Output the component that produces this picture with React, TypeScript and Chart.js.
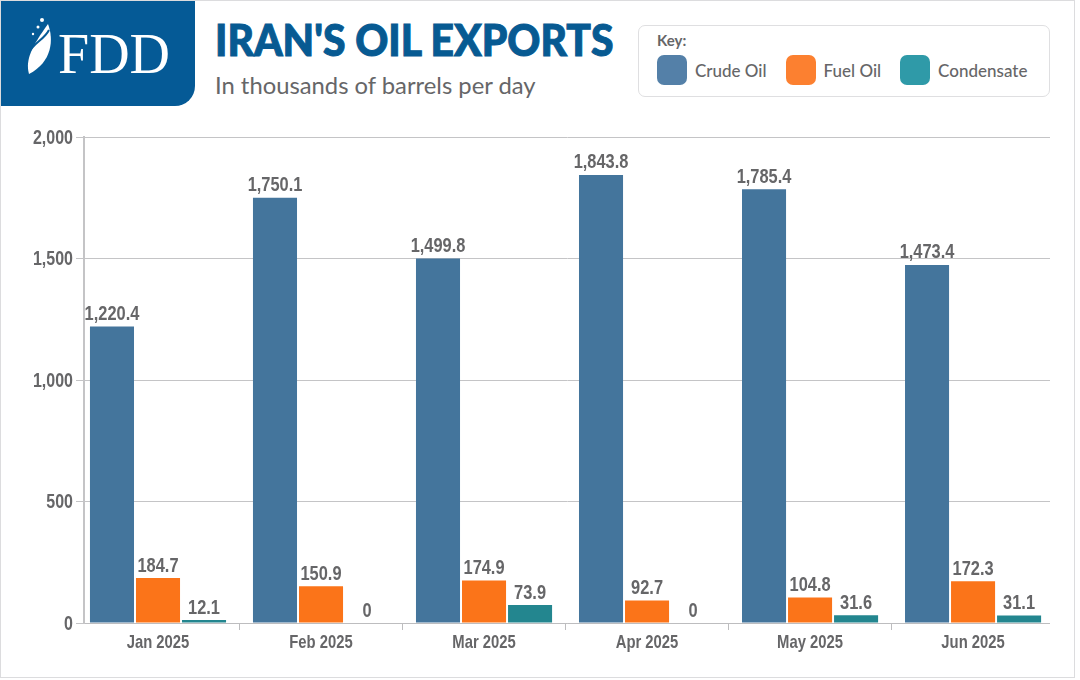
import React, { useEffect, useRef } from 'react';
import { Chart, registerables } from 'chart.js';

Chart.register(...registerables);

const months = ['Jan 2025', 'Feb 2025', 'Mar 2025', 'Apr 2025', 'May 2025', 'Jun 2025'];
const crudeOil = [1220.4, 1750.1, 1499.8, 1843.8, 1785.4, 1473.4];
const fuelOil = [184.7, 150.9, 174.9, 92.7, 104.8, 172.3];
const condensate = [12.1, 0, 73.9, 0, 31.6, 31.1];
const yTicks = [0, 500, 1000, 1500, 2000];

const CRUDE = '#44759c';
const FUEL = '#fb7419';
const COND = '#23868f';
const INK = '#666668';
const SANS = '"Liberation Sans", sans-serif';

// no condensed font is installed, so squeeze the text horizontally
function narrowText(ctx: any, text: string, x: number, y: number, size: number, squeeze: number, align: string, base: string) {
  ctx.save();
  ctx.font = `bold ${size}px ${SANS}`;
  ctx.fillStyle = INK;
  ctx.textAlign = align;
  ctx.textBaseline = base;
  ctx.translate(x, y);
  ctx.scale(squeeze, 1);
  ctx.fillText(text, 0, 0);
  ctx.restore();
}

const fmt = (v: number) => v.toLocaleString('en-US', { maximumFractionDigits: 1 });

// value above each bar and the axis labels
const chartText = {
  id: 'chartText',
  afterDraw(chart: any) {
    const { ctx, scales } = chart;
    chart.data.datasets.forEach((ds: any, i: number) => {
      chart.getDatasetMeta(i).data.forEach((bar: any, j: number) => {
        narrowText(ctx, fmt(ds.data[j].y), bar.x, bar.y - 2, 20, 0.82, 'center', 'bottom');
      });
    });
    yTicks.forEach((t) => {
      narrowText(ctx, fmt(t), 73, scales.y.getPixelForValue(t) + 1, 20, 0.8, 'right', 'middle');
    });
    months.forEach((m, i) => {
      narrowText(ctx, m, scales.x.getPixelForValue(i), scales.y.bottom + 20, 19, 0.78, 'center', 'middle');
    });
  },
};

function LegendItem({ color, label }: { color: string; label: string }) {
  return (
    <div style={{ display: 'flex', alignItems: 'center', marginRight: 19 }}>
      <span style={{ width: 30, height: 30, borderRadius: 7, background: color, display: 'block', marginRight: 8 }} />
      <span style={{ fontSize: 17, fontWeight: 500, color: INK }}>{label}</span>
    </div>
  );
}

export default function App() {
  const canvasRef = useRef<HTMLCanvasElement>(null);

  useEffect(() => {
    document.body.style.margin = '0';
    const data = (vals: number[]) => vals.map((y, x) => ({ x, y }));
    const chart = new Chart(canvasRef.current!, {
      type: 'bar',
      data: {
        datasets: [
          { label: 'Crude Oil', data: data(crudeOil) as any, backgroundColor: CRUDE },
          { label: 'Fuel Oil', data: data(fuelOil) as any, backgroundColor: FUEL },
          { label: 'Condensate', data: data(condensate) as any, backgroundColor: COND },
        ],
      },
      plugins: [chartText],
      options: {
        animation: false,
        responsive: false,
        events: [],
        layout: { padding: { top: 17 } },
        datasets: { bar: { categoryPercentage: 0.847, barPercentage: 0.957 } },
        plugins: { legend: { display: false }, tooltip: { enabled: false } },
        scales: {
          x: {
            type: 'linear',
            offset: false,
            min: -0.454,
            max: 5.472,
            afterBuildTicks: (s: any) => { s.ticks = months.map((_, value) => ({ value })); },
            grid: { drawOnChartArea: false, drawTicks: true, tickLength: 7, color: '#bdbdbf' },
            border: { color: '#bdbdbf', width: 1 },
            ticks: { display: false },
            afterFit: (s: any) => { s.height = 57; },
          },
          y: {
            min: 0,
            max: 2000,
            afterBuildTicks: (s: any) => { s.ticks = yTicks.map((value) => ({ value })); },
            grid: { color: '#c4c4c6', tickLength: 8 },
            border: { color: '#c4c4c6', width: 2 },
            ticks: { display: false },
            afterFit: (s: any) => { s.width = 84; },
          },
        },
      },
    });
    return () => chart.destroy();
  }, []);

  return (
    <div style={{ position: 'relative', width: 1080, height: 680, background: '#fff', overflow: 'hidden', fontFamily: 'Lato, sans-serif' }}>
      <div style={{ position: 'absolute', left: 0, top: 0, width: 1075, height: 678, border: '1px solid #dcdcde', boxSizing: 'border-box' }} />
      <div style={{ position: 'absolute', left: 1, top: 1, width: 194, height: 105, background: '#055a96', borderBottomRightRadius: 20 }} />
      <svg style={{ position: 'absolute', left: 24, top: 16 }} width="30" height="60" viewBox="0 0 30 60">
        <path d="M24 8 C30 24 28 46 5 58 C1 44 8 30 24 8 Z" fill="#fff" />
        <path d="M4 38 C10 26 20 24 25 14" stroke="#055a96" strokeWidth="2" fill="none" />
        <circle cx="18" cy="4" r="2" fill="#fff" /><circle cx="14" cy="11" r="1.5" fill="#fff" /><circle cx="9" cy="18" r="1.2" fill="#fff" />
      </svg>
      <div style={{ position: 'absolute', left: 58, top: 24, fontFamily: '"Liberation Serif", serif', fontSize: 56, lineHeight: '60px', color: '#fff' }}>FDD</div>
      <div style={{ position: 'absolute', left: 215, top: 13, fontSize: 43, lineHeight: '54px', fontWeight: 900, color: '#075a92', whiteSpace: 'nowrap', transform: 'scaleX(0.95)', transformOrigin: 'left', WebkitTextStroke: '1px #075a92' }}>IRAN'S OIL EXPORTS</div>
      <div style={{ position: 'absolute', left: 215, top: 70, fontSize: 23.8, lineHeight: '30px', color: INK, whiteSpace: 'nowrap' }}>In thousands of barrels per day</div>
      <div style={{ position: 'absolute', left: 638, top: 25, width: 412, height: 72, border: '1px solid #dfdfe1', borderRadius: 7, boxSizing: 'border-box' }}>
        <div style={{ position: 'absolute', left: 18, top: 5, fontSize: 15, fontWeight: 700, color: INK }}>Key:</div>
        <div style={{ position: 'absolute', left: 18, top: 29, display: 'flex' }}>
          <LegendItem color="#5480a8" label="Crude Oil" />
          <LegendItem color="#fc8030" label="Fuel Oil" />
          <LegendItem color="#2f9aa8" label="Condensate" />
        </div>
      </div>
      <canvas ref={canvasRef} width={1050} height={560} style={{ position: 'absolute', left: 0, top: 120, width: 1050, height: 560 }} />
    </div>
  );
}
